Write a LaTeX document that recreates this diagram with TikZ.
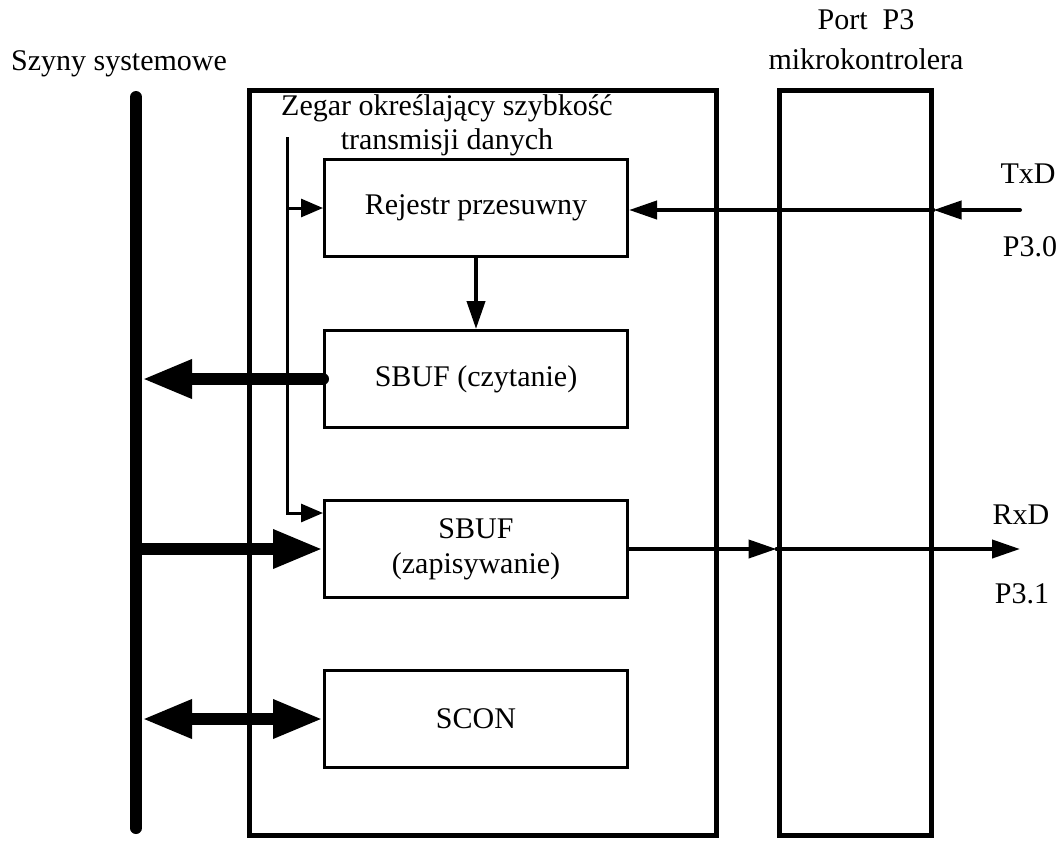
\documentclass[tikz,border=0pt]{standalone}
\usepackage{fontspec}
\setmainfont{Liberation Serif}
\usetikzlibrary{arrows.meta}
\begin{document}
\begin{tikzpicture}[x=1pt,y=-1pt,
  font=\fontsize{30}{35}\selectfont,
  blk/.style={draw, line width=3pt, minimum width=303pt, minimum height=97pt, inner sep=0pt, align=center},
  frame/.style={draw, line width=5pt, inner sep=0pt, minimum height=745pt},
  lbl/.style={inner sep=0pt, align=center},
  sigarrow/.style={line width=4pt, line cap=round, -{Triangle[length=28pt,width=18pt]}},
  clkarrow/.style={line width=3pt, -{Triangle[length=22pt,width=18pt]}},
  busarrow/.style={line width=12pt, line cap=round, -{Triangle[length=50pt,width=36pt]}},
  bus/.style={line width=12pt, line cap=round}
]
\useasboundingbox (0,0) rectangle (1062,841);
% frames
\node[frame, minimum width=467pt] (uart) at (482.5,462.5) {};
\node[frame, minimum width=152pt] (port) at (855,462.5) {};
% blocks
\node[blk] (rej) at (476,208) {Rejestr przesuwny};
\node[blk] (sbr) at (476,379) {SBUF (czytanie)};
\node[blk] (sbw) at (476,549) {SBUF\\(zapisywanie)};
\node[blk] (scon) at (476,719) {SCON};
% labels
\node[lbl] (szyny) at (119,64) {Szyny systemowe};
\node[lbl, font=\fontsize{30}{40}\selectfont] (portlbl) at (866,40) {Port\ \ P3\\mikrokontrolera};
\node[lbl, font=\fontsize{30}{34}\selectfont] (zegar) at (447,125) {Zegar określający szybkość\\transmisji danych};
\node[lbl] (txdl) at (1028,174) {TxD};
\node[lbl] (p30) at (1030,247) {P3.0};
\node[lbl] (rxdl) at (1021,515) {RxD};
\node[lbl] (p31) at (1022,594) {P3.1};
% system bus
\coordinate (busT) at (136,97);
\coordinate (busB) at (136,828);
\coordinate (busR) at (142,0);
\draw[bus] (busT) -- (busB);
% clock
\coordinate (clkT) at (287,137);
\coordinate (clkB) at (287,513);
\coordinate (clkR) at (287,208);
\draw[clkarrow] (clkT) |- (clkB -| sbw.west);
\draw[clkarrow] (clkR) -- (clkR -| rej.west);
% data path
\draw[sigarrow] (rej.south) -- (sbr.north);
\coordinate (txd) at (1020,210);
\draw[sigarrow] (txd) -- (txd -| port.east);
\draw[sigarrow] (txd -| port.east) -- (txd -| rej.east);
\coordinate (rxd) at (1020,549);
\draw[sigarrow] (sbw.east) -- (sbw.east -| port.west);
\draw[sigarrow] (sbw.east -| port.west) -- (rxd);
% bus arrows
\draw[busarrow] (sbr.west) -- (busR |- sbr.west);
\draw[busarrow, line cap=butt] (busT |- sbw.west) -- (sbw.west);
\draw[busarrow, line cap=butt, {Triangle[length=50pt,width=36pt]}-{Triangle[length=50pt,width=36pt]}] (busR |- scon.west) -- (scon.west);
\end{tikzpicture}
\end{document}
